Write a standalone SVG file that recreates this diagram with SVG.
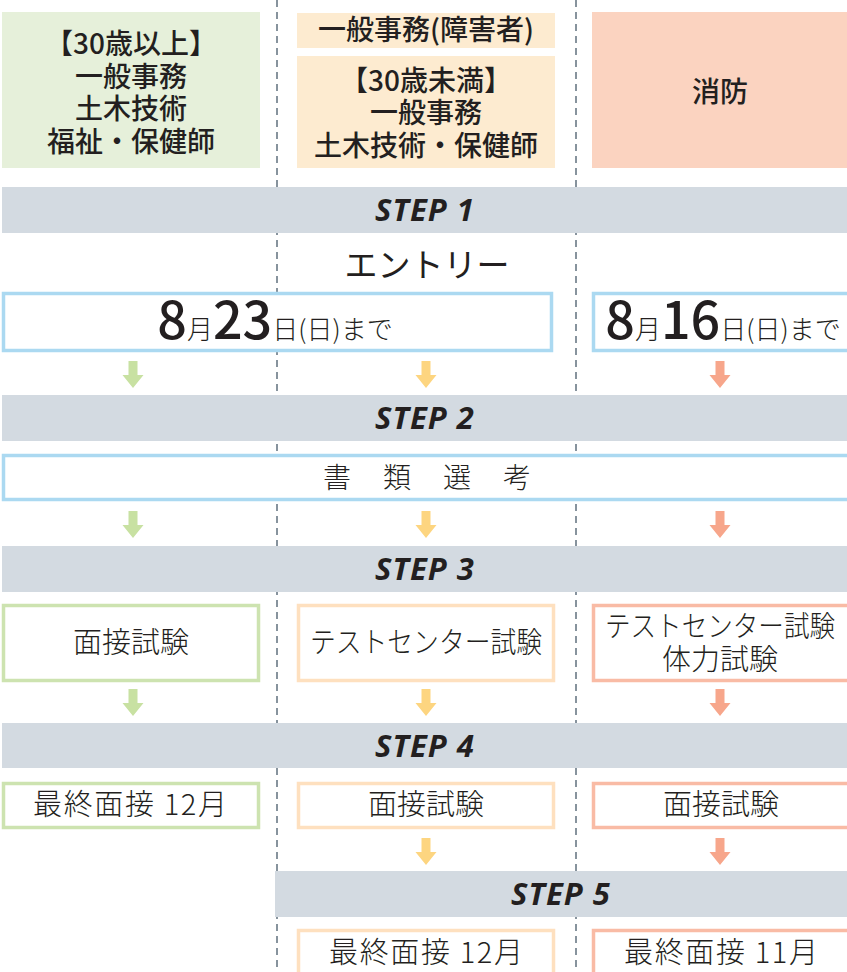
<svg xmlns="http://www.w3.org/2000/svg" xmlns:xlink="http://www.w3.org/1999/xlink" width="847" height="972" viewBox="0 0 847 972">
<style>
text{font-family:"Noto Sans CJK JP","Noto Sans",sans-serif;fill:#231f20;text-anchor:middle}
.hd{font-size:28px;font-weight:500}
.bx{font-size:29px;font-weight:300}
.step{font-family:"Noto Sans","Noto Sans CJK JP",sans-serif;font-size:31px;font-weight:700;font-style:italic;letter-spacing:1px}
.dt{font-size:26px;font-weight:300}
.big{font-size:52px;font-weight:500}
.bar{fill:#d3dae1}
.blue{fill:#fff;stroke:#abd9f1;stroke-width:3.5}
.gb{fill:#fff;stroke:#cde3b0;stroke-width:3.5}
.ob{fill:#fff;stroke:#fee0bf;stroke-width:3.5}
.rb{fill:#fff;stroke:#f9bba5;stroke-width:3.5}
.ga{fill:#c8e1a2}
.oa{fill:#fdd580}
.ra{fill:#f7a68b}
.dash{stroke:#87939d;stroke-width:2;stroke-dasharray:7 5}
</style>
<defs>
<path id="arr" d="M-4.5 0H4.5V14H10.5L0 27L-10.5 14H-4.5Z"/>
</defs>
<rect width="847" height="972" fill="#fff"/>
<g id="dividers">
<line class="dash" x1="277" y1="0" x2="277" y2="972"/>
<line class="dash" x1="576" y1="0" x2="576" y2="972"/>
</g>
<g id="head-green">
<rect x="2" y="12" width="258" height="156" fill="#e6f0da"/>
<text class="hd" x="131" y="54">【30歳以上】</text>
<text class="hd" x="131" y="87">一般事務</text>
<text class="hd" x="131" y="119">土木技術</text>
<text class="hd" x="131" y="152">福祉・保健師</text>
</g>
<g id="head-orange">
<rect x="297" y="13" width="258" height="35" fill="#fdebd0"/>
<text class="hd" x="426" y="40">一般事務(障害者)</text>
<rect x="297" y="56" width="258" height="112" fill="#fdebd0"/>
<text class="hd" x="426" y="91">【30歳未満】</text>
<text class="hd" x="426" y="123">一般事務</text>
<text class="hd" x="426" y="156">土木技術・保健師</text>
</g>
<g id="head-red">
<rect x="592" y="12" width="258" height="156" fill="#fbd3c0"/>
<text class="hd" x="720" y="102">消防</text>
</g>
<g id="step1">
<rect class="bar" x="2" y="187" width="848" height="46"/>
<text class="step" x="425" y="221">STEP 1</text>
</g>
<g id="entry">
<text x="427" y="277" font-size="33" font-weight="400">エントリー</text>
</g>
<g id="date-a">
<rect class="blue" x="3.5" y="293.5" width="548" height="57"/>
<text class="dt" x="275" y="339"><tspan class="big">8</tspan>月<tspan class="big">23</tspan>日(日)まで</text>
</g>
<g id="date-b">
<rect class="blue" x="593.5" y="293.5" width="260" height="57"/>
<text class="dt" x="723" y="339"><tspan class="big">8</tspan>月<tspan class="big">16</tspan>日(日)まで</text>
</g>
<g id="step2">
<rect class="bar" x="2" y="395" width="848" height="46"/>
<text class="step" x="425" y="429">STEP 2</text>
</g>
<g id="shorui">
<rect class="blue" x="3.5" y="455.5" width="848" height="44"/>
<text x="337 397 457 517" y="488" font-size="28" font-weight="300">書類選考</text>
</g>
<g id="step3">
<rect class="bar" x="2" y="546" width="848" height="46"/>
<text class="step" x="425" y="580">STEP 3</text>
</g>
<g id="s3-green">
<rect class="gb" x="3.5" y="605.5" width="255" height="75"/>
<text class="bx" x="131" y="653">面接試験</text>
</g>
<g id="s3-orange">
<rect class="ob" x="298.5" y="605.5" width="255" height="75"/>
<text class="bx" x="426" y="653" textLength="232" lengthAdjust="spacingAndGlyphs">テストセンター試験</text>
</g>
<g id="s3-red">
<rect class="rb" x="593.5" y="605.5" width="260" height="75"/>
<text class="bx" x="720" y="637" textLength="230" lengthAdjust="spacingAndGlyphs">テストセンター試験</text>
<text class="bx" x="720" y="670">体力試験</text>
</g>
<g id="step4">
<rect class="bar" x="2" y="723" width="848" height="45"/>
<text class="step" x="425" y="757">STEP 4</text>
</g>
<g id="s4-green">
<rect class="gb" x="3.5" y="783.5" width="255" height="44"/>
<text class="bx" x="130" y="815" textLength="194" lengthAdjust="spacing">最終面接 12月</text>
</g>
<g id="s4-orange">
<rect class="ob" x="298.5" y="783.5" width="255" height="44"/>
<text class="bx" x="426" y="815">面接試験</text>
</g>
<g id="s4-red">
<rect class="rb" x="593.5" y="783.5" width="260" height="44"/>
<text class="bx" x="721" y="815">面接試験</text>
</g>
<g id="step5">
<rect class="bar" x="275" y="871" width="575" height="46"/>
<text class="step" x="561" y="905">STEP 5</text>
</g>
<g id="s5-orange">
<rect class="ob" x="298.5" y="930.5" width="255" height="60"/>
<text class="bx" x="426" y="963" textLength="194" lengthAdjust="spacing">最終面接 12月</text>
</g>
<g id="s5-red">
<rect class="rb" x="593.5" y="930.5" width="260" height="60"/>
<text class="bx" x="721" y="963" textLength="194" lengthAdjust="spacing">最終面接 11月</text>
</g>
<g id="connectors">
<use xlink:href="#arr" class="ga" x="133" y="361"/>
<use xlink:href="#arr" class="oa" x="426" y="361"/>
<use xlink:href="#arr" class="ra" x="720" y="361"/>
<use xlink:href="#arr" class="ga" x="133" y="511"/>
<use xlink:href="#arr" class="oa" x="426" y="511"/>
<use xlink:href="#arr" class="ra" x="720" y="511"/>
<use xlink:href="#arr" class="ga" x="133" y="689"/>
<use xlink:href="#arr" class="oa" x="426" y="689"/>
<use xlink:href="#arr" class="ra" x="720" y="689"/>
<use xlink:href="#arr" class="oa" x="426" y="838"/>
<use xlink:href="#arr" class="ra" x="720" y="838"/>
</g>
</svg>
